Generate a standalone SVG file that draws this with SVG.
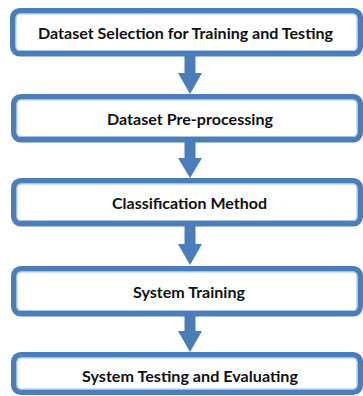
<svg xmlns="http://www.w3.org/2000/svg" width="363" height="396" viewBox="0 0 363 396">
<defs>
<style>
.box{fill:#ffffff;stroke:#4a7ebb;stroke-width:5.5}
.hl{fill:none;stroke:#a9c2e2;stroke-width:1}
.lbl{font-family:Lato,"Liberation Sans",Arial,sans-serif;font-weight:bold;font-size:16px;fill:#111111;text-anchor:middle}
.arr{fill:#4a7ebb}
</style>
</defs>
<rect width="363" height="396" fill="#ffffff"/>
<g id="connectors">
<path class="arr" d="M184.5,56 H195.5 V73 H202 L190,94 L178,73 H184.5 Z"/>
<path class="arr" d="M184.5,142 H195.5 V158 H202 L190,178 L178,158 H184.5 Z"/>
<path class="arr" d="M184.5,226 H195.5 V244 H202 L190,265 L178,244 H184.5 Z"/>
<path class="arr" d="M184.5,316 H195.5 V331 H202 L190,352 L178,331 H184.5 Z"/>
</g>
<g id="node1">
<rect class="box" x="12.75" y="10.75" width="347.5" height="43" rx="7"/>
<rect class="hl" x="16" y="14" width="341" height="36.5" rx="4"/>
<text class="lbl" x="185.5" y="39" textLength="295" lengthAdjust="spacingAndGlyphs">Dataset Selection for Training and Testing</text>
</g>
<g id="node2">
<rect class="box" x="13.75" y="96.75" width="346.5" height="43" rx="7"/>
<rect class="hl" x="17" y="100" width="340" height="36.5" rx="4"/>
<text class="lbl" x="190" y="125" textLength="166" lengthAdjust="spacingAndGlyphs">Dataset Pre-processing</text>
</g>
<g id="node3">
<rect class="box" x="13.75" y="180.75" width="346.5" height="43" rx="7"/>
<rect class="hl" x="17" y="184" width="340" height="36.5" rx="4"/>
<text class="lbl" x="189.5" y="209" textLength="155" lengthAdjust="spacingAndGlyphs">Classification Method</text>
</g>
<g id="node4">
<rect class="box" x="13.75" y="268.75" width="346.5" height="45" rx="7"/>
<rect class="hl" x="17" y="272" width="340" height="38.5" rx="4"/>
<text class="lbl" x="189" y="298" textLength="112" lengthAdjust="spacingAndGlyphs">System Training</text>
</g>
<g id="node5">
<rect class="box" x="13.75" y="354.75" width="346.5" height="37.5" rx="7"/>
<rect class="hl" x="17" y="358" width="340" height="31" rx="4"/>
<text class="lbl" x="190" y="382" textLength="216" lengthAdjust="spacingAndGlyphs">System Testing and Evaluating</text>
</g>
</svg>
